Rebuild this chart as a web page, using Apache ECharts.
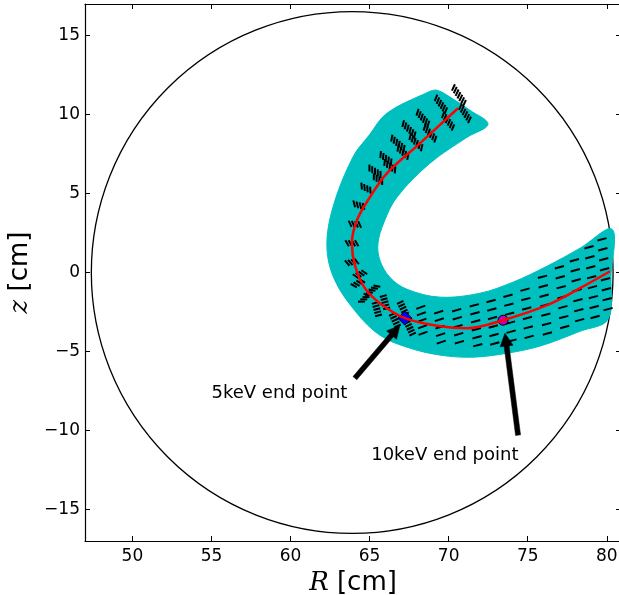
<!DOCTYPE html>
<html><head><meta charset="utf-8">
<script src="https://cdn.jsdelivr.net/npm/echarts@6/dist/echarts.min.js"></script>
<style>html,body{margin:0;padding:0;background:#fff}#c{width:619px;height:595px}</style>
</head><body><div id="c"></div>
<script>
// ---- data ----
const xTicks = [50, 55, 60, 65, 70, 75, 80];
const yTicks = [-15, -10, -5, 0, 5, 10, 15];
const circleCenter = [63.9, 0];
const circleRadius = 16.5;

// outline of the cyan orbit band (outer edge, right end, inner edge, top end)
const bandR = [69.26, 68.69, 66.09, 64.98, 63.94, 62.68, 62.30, 62.80, 64.20, 65.65, 67.36, 69.45, 71.54, 73.69, 75.78, 78.31, 80.08,
  80.27, 80.33,
  78.31, 76.22, 74.07, 71.98, 69.45, 67.36, 66.28, 65.65, 65.53, 65.91, 66.73, 68.82, 71.16, 72.49,
  71.35, 70.21];
const bandZ = [11.54, 11.41, 10.08, 8.70, 7.30, 4.13, 1.60, -0.49, -2.58, -3.97, -4.73, -5.23, -5.36, -5.11, -4.66, -3.72, -2.96,
  -0.17, 2.74,
  1.54, 0.40, -0.61, -1.31, -1.56, -1.06, -0.30, 0.78, 1.85, 3.18, 4.77, 6.92, 8.56, 9.39,
  10.27, 11.03];

// red guiding-centre orbit
const orbitR = [70.59, 68.18, 66.09, 65.02, 64.20, 63.88, 64.07, 64.70, 65.65, 67.23, 69.45, 71.16, 73.44, 76.22, 78.31, 80.21];
const orbitZ = [10.40, 8.18, 6.28, 4.77, 3.31, 1.85, 0.46, -0.99, -1.94, -2.89, -3.40, -3.53, -3.02, -2.07, -0.99, 0.08];

const end5keV = [67.23, -2.89];
const end10keV = [73.44, -3.02];

// arrows: tail R, tail z, tip R, tip z
const arrowTailR = [64.07, 74.39];
const arrowTailZ = [-6.69, -10.30];
const arrowTipR = [66.92, 73.56];
const arrowTipZ = [-3.34, -3.84];

const labelText = ['5keV end point', '10keV end point'];
const labelR = [55.0, 65.1];
const labelZ = [-7.66, -11.56];

// dash clusters along the arc (tight groups): centre, count, dash direction, stacking direction (deg)
const arcR = [70.65, 71.03, 69.51, 69.96, 68.37, 68.82, 67.49, 67.93, 66.79, 67.11, 66.03, 66.28, 65.34, 65.53, 64.77, 64.32, 64.07, 63.88, 63.88, 64.39, 64.26, 65.15, 64.70, 65.97, 65.46, 67.11, 66.60, 67.55];
const arcZ = [11.22, 10.08, 10.65, 9.58, 9.77, 8.82, 9.07, 8.25, 8.18, 7.61, 7.23, 6.73, 6.41, 5.91, 5.34, 4.26, 3.06, 1.85, 0.65, -0.11, -0.68, -1.12, -1.63, -1.88, -2.32, -2.26, -3.02, -3.53];
const arcN = [7, 6, 6, 6, 6, 6, 6, 6, 6, 5, 5, 5, 5, 4, 4, 4, 4, 4, 4, 4, 4, 5, 4, 5, 5, 5, 5, 5];
const arcStroke = [65, 65, 68, 68, 72, 72, 76, 76, 80, 80, 85, 85, 90, 90, 95, 105, 115, 120, 130, 145, 150, 170, 180, 15, 15, 25, 25, 25];
const arcStack = [-55, -55, -52, -52, -48, -48, -44, -44, -40, -40, -35, -35, -30, -30, -25, -15, -5, 0, 10, 25, 30, 40, 45, -75, -75, -65, -65, -65];
// dash columns along the tail (open groups)
const tailR = [68.31, 69.45, 70.59, 71.73, 72.80, 73.88, 74.96, 76.09, 77.17, 78.12, 79.07, 79.89];
const tailZ = [-3.02, -3.46, -3.40, -3.34, -3.15, -2.89, -2.58, -2.07, -1.56, -1.12, -0.61, -0.11];
const tailN = [5, 5, 5, 6, 6, 6, 6, 7, 7, 7, 8, 8];
const tailSpan = [1.65, 1.90, 2.03, 2.53, 2.69, 2.85, 3.00, 3.60, 3.80, 3.80, 4.43, 4.43];
const tailTilt = [20, 18, 16, 15, 15, 15, 15, 15, 15, 15, 15, 15];

// ---- chart ----
const FONT = 'DejaVu Sans';
const chart = echarts.init(document.getElementById('c'), null, {renderer: 'canvas'});
const fmt = v => String(v).replace('-', '\u2212');

function stackGroup(c, n, strokeDeg, stackDeg, spanPx, len, width) {
  const ch = [];
  const sa = stackDeg * Math.PI / 180, ta = strokeDeg * Math.PI / 180;
  const sx = Math.cos(sa), sy = -Math.sin(sa), tx = Math.cos(ta), ty = -Math.sin(ta);
  for (let i = 0; i < n; i++) {
    const t = n > 1 ? (i - (n - 1) / 2) * spanPx / (n - 1) : 0;
    const cx = c[0] + t * sx, cy = c[1] + t * sy;
    ch.push({type: 'line', shape: {x1: cx - tx * len / 2, y1: cy - ty * len / 2, x2: cx + tx * len / 2, y2: cy + ty * len / 2},
      style: {stroke: '#000', lineWidth: width}});
  }
  return {type: 'group', children: ch};
}

const axisCommon = {
  type: 'value', splitLine: {show: false},
  axisLine: {show: true, onZero: false, lineStyle: {color: '#000', width: 1.2}},
};

const option = {
  animation: false,
  backgroundColor: '#fff',
  grid: {left: 85, top: 4, width: 536, height: 537, containLabel: false, outerBoundsMode: 'none'},
  xAxis: [
    Object.assign({}, axisCommon, {
      min: 47, max: 80.9, position: 'bottom',
      axisTick: {show: true, inside: true, length: 5, customValues: xTicks, lineStyle: {color: '#000', width: 1}},
      axisLabel: {customValues: xTicks, margin: 7, fontSize: 17, fontFamily: FONT, color: '#000', formatter: fmt},
      name: '{i|R} [cm]', nameLocation: 'middle', nameGap: 27,
      nameTextStyle: {fontSize: 26, fontFamily: FONT, color: '#000',
        rich: {i: {fontSize: 26, fontFamily: 'DejaVu Serif', fontStyle: 'italic', color: '#000'}}}
    }),
    Object.assign({}, axisCommon, {
      min: 47, max: 80.9, position: 'top',
      axisTick: {show: true, inside: true, length: 5, customValues: xTicks, lineStyle: {color: '#000', width: 1}},
      axisLabel: {show: false}
    })
  ],
  yAxis: [
    Object.assign({}, axisCommon, {
      min: -17, max: 17, position: 'left',
      axisTick: {show: true, inside: true, length: 5, customValues: yTicks, lineStyle: {color: '#000', width: 1}},
      axisLabel: {customValues: yTicks, margin: 5, fontSize: 17, fontFamily: FONT, color: '#000', formatter: fmt},
      name: '{i|z} [cm]', nameLocation: 'middle', nameGap: 46,
      nameTextStyle: {fontSize: 26, fontFamily: FONT, color: '#000',
        rich: {i: {fontSize: 26, fontFamily: 'DejaVu Serif', fontStyle: 'italic', color: '#000'}}}
    }),
    Object.assign({}, axisCommon, {
      min: -17, max: 17, position: 'right',
      axisTick: {show: true, inside: true, length: 5, customValues: yTicks, lineStyle: {color: '#000', width: 1}},
      axisLabel: {show: false}
    })
  ],
  series: [
    { // vessel circle
      type: 'custom', silent: true, xAxisIndex: 0, yAxisIndex: 0,
      data: [[circleCenter[0], circleCenter[1], circleRadius]],
      renderItem: (p, api) => {
        const c = api.coord([api.value(0), api.value(1)]);
        const r = api.size([api.value(2), 0])[0];
        return {type: 'circle', shape: {cx: c[0], cy: c[1], r: r}, style: {fill: 'none', stroke: '#000', lineWidth: 1.3}};
      }
    },
    { // cyan band
      type: 'custom', silent: true,
      data: [[bandR[0], bandZ[0]]],
      renderItem: (p, api) => {
        const pts = bandR.map((r, i) => api.coord([r, bandZ[i]]));
        return {type: 'polygon', shape: {points: pts, smooth: 0.35}, style: {fill: '#00BFBF', stroke: '#00BFBF', lineWidth: 1}};
      }
    },
    { // arc dash groups
      type: 'custom', silent: true,
      data: arcR.map((r, i) => [r, arcZ[i], arcN[i], arcStroke[i], arcStack[i]]),
      renderItem: (p, api) => {
        const c = api.coord([api.value(0), api.value(1)]);
        const n = api.value(2);
        return stackGroup(c, n, api.value(3), api.value(4), (n - 1) * 3.2, 7, 2);
      }
    },
    { // tail dash columns
      type: 'custom', silent: true,
      data: tailR.map((r, i) => [r, tailZ[i], tailN[i], tailSpan[i], tailTilt[i]]),
      renderItem: (p, api) => {
        const c = api.coord([api.value(0), api.value(1)]);
        const span = api.size([api.value(3), 0])[0];
        return stackGroup(c, api.value(2), api.value(4), -85, span, 9.5, 2);
      }
    },
    { // red orbit
      type: 'line', silent: true, showSymbol: false, smooth: 0.35,
      data: orbitR.map((r, i) => [r, orbitZ[i]]),
      lineStyle: {color: '#FF0000', width: 2.5}
    },
    {
      type: 'scatter', silent: true, symbol: 'diamond', symbolSize: 14,
      data: [end5keV],
      itemStyle: {color: '#0000FF', borderColor: '#000', borderWidth: 1, opacity: 1}
    },
    {
      type: 'scatter', silent: true, symbol: 'circle', symbolSize: 10,
      data: [end10keV],
      itemStyle: {color: '#BF00BF', borderColor: '#000', borderWidth: 1, opacity: 1}
    },
    { // arrows
      type: 'custom', silent: true,
      data: arrowTailR.map((r, i) => [r, arrowTailZ[i], arrowTipR[i], arrowTipZ[i]]),
      encode: {x: [0, 2], y: [1, 3]},
      renderItem: (p, api) => {
        const a = api.coord([api.value(0), api.value(1)]);
        const b = api.coord([api.value(2), api.value(3)]);
        const dx = b[0] - a[0], dy = b[1] - a[1], L = Math.hypot(dx, dy);
        const ux = dx / L, uy = dy / L, nx = -uy, ny = ux;
        const hl = 13, hw = 6.5, sw = 2.5;
        const nk = [b[0] - ux * hl, b[1] - uy * hl];
        const pts = [
          [a[0] + nx * sw, a[1] + ny * sw], [nk[0] + nx * sw, nk[1] + ny * sw], [nk[0] + nx * hw, nk[1] + ny * hw],
          b, [nk[0] - nx * hw, nk[1] - ny * hw], [nk[0] - nx * sw, nk[1] - ny * sw], [a[0] - nx * sw, a[1] - ny * sw]];
        return {type: 'polygon', shape: {points: pts}, style: {fill: '#000', stroke: '#000', lineWidth: 0.5}};
      }
    },
    { // annotation texts
      type: 'custom', silent: true,
      data: labelR.map((r, i) => [r, labelZ[i]]),
      renderItem: (p, api) => {
        const c = api.coord([api.value(0), api.value(1)]);
        return {type: 'text', x: c[0], y: c[1],
          style: {text: labelText[p.dataIndex], fill: '#000', fontSize: 18, fontFamily: FONT, align: 'left', verticalAlign: 'middle'}};
      }
    }
  ]
};
chart.setOption(option);
</script></body></html>
